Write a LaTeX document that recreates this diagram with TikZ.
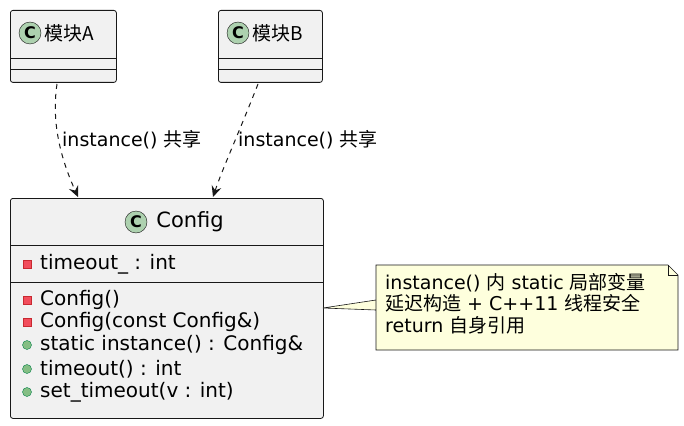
\documentclass[tikz,border=0pt]{standalone}
\usepackage{fontspec}
\setmainfont{DejaVu Sans}
\newfontfamily\cjk{Noto Sans CJK SC}
\usetikzlibrary{positioning,arrows.meta}
\definecolor{boxfill}{HTML}{F1F1F1}
\definecolor{boxline}{HTML}{181818}
\definecolor{iconfill}{HTML}{ADD1AF}
\definecolor{notefill}{HTML}{FEFFDD}
\definecolor{privfill}{HTML}{F24D5C}
\definecolor{privline}{HTML}{C82930}
\definecolor{pubfill}{HTML}{84BE84}
\definecolor{publine}{HTML}{038048}
\tikzset{
  classbox/.style={draw=boxline, fill=boxfill, rounded corners=2.5pt, line width=0.8pt, anchor=north west, inner sep=0pt},
  classicon/.style={circle, draw=boxline, fill=iconfill, minimum size=22pt, inner sep=0pt, font=\bfseries\fontsize{16}{16}\selectfont},
  member/.style={anchor=west, inner sep=0pt, font=\fontsize{20}{22}\selectfont},
  priv/.style={draw=privline, fill=privfill, minimum size=8pt, inner sep=0pt},
  pub/.style={circle, draw=publine, fill=pubfill, minimum size=9pt, inner sep=0pt},
  uses/.style={-{Stealth[length=11pt,width=10pt,inset=4pt]}, dash pattern=on 5pt off 5pt, line width=1pt, boxline},
  lbl/.style={font=\fontsize{19}{21}\selectfont, inner sep=1pt}
}
\begin{document}
\begin{tikzpicture}[x=1pt, y=-1pt]
\useasboundingbox (0,0) rectangle (684,425);

% client classes
\node[classbox, minimum width=106pt, minimum height=72pt] (modA) at (10,10) {};
\node[classicon] (iconA) at (30,33) {C};
\node[lbl, right=2pt of iconA] {\cjk 模块A};
\draw[boxline] (10,58) -- (116,58) (10,69) -- (116,69);

\node[classbox, minimum width=104pt, minimum height=72pt] (modB) at (218,10) {};
\node[classicon] (iconB) at (238,33) {C};
\node[lbl, right=2pt of iconB] {\cjk 模块B};
\draw[boxline] (218,58) -- (322,58) (218,69) -- (322,69);

% singleton class
\node[classbox, minimum width=313pt, minimum height=220pt] (config) at (10,198) {};
\node[classicon] (iconC) at (136,222) {C};
\node[lbl, right=8pt of iconC, font=\fontsize{21}{23}\selectfont] {Config};
\draw[boxline] (10,245) -- (323,245) (10,282) -- (323,282);

\node[priv] at (27,264) {};
\node[member] at (40,264) {timeout\_ : int};
\node[priv] at (27,300) {};
\node[member] at (40,300) {Config()};
\node[priv] at (27,322) {};
\node[member] at (40,322) {Config(const Config\&)};
\node[pub] at (27,345) {};
\node[member] at (40,345) {static instance() : Config\&};
\node[pub] at (27,369) {};
\node[member] at (40,369) {timeout() : int};
\node[pub] at (27,392) {};
\node[member] at (40,392) {set\_timeout(v : int)};

% dependencies
\coordinate (aEnd) at (57,84);
\coordinate (bEnd) at (258,84);
\draw[uses] (aEnd) .. controls (50,130) and (66,170) .. (78,197);
\draw[uses] (bEnd) .. controls (240,130) and (222,170) .. (213,197);
\node[lbl, anchor=west] at (61,140) {instance() {\cjk 共享}};
\node[lbl, anchor=west] at (237,140) {instance() {\cjk 共享}};

% note
\fill[notefill, draw=boxline, line width=0.6pt] (376,265) -- (668,265) -- (678,275) -- (678,350) -- (376,350) -- (376,300) -- (323,308) -- (376,310) -- cycle;
\draw[boxline, line width=0.6pt] (668,265) -- (668,275) -- (678,275);
\node[lbl, anchor=north west, align=left, font=\fontsize{19}{21.5}\selectfont] (note) at (384,272)
  {instance() {\cjk 内} static {\cjk 局部变量}\\{\cjk 延迟构造} + C++11 {\cjk 线程安全}\\return {\cjk 自身引用}};
\end{tikzpicture}
\end{document}
